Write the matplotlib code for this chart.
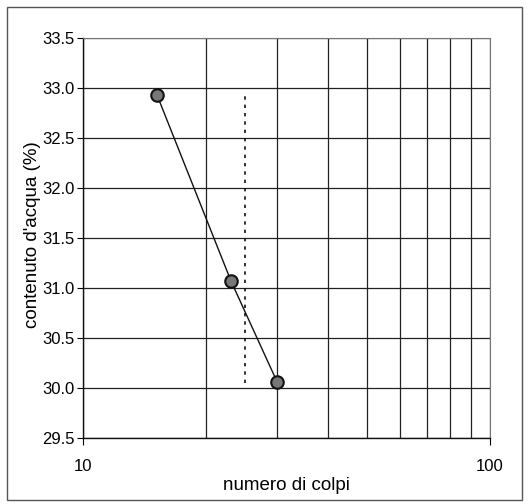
import matplotlib
matplotlib.use("Agg")
import matplotlib.pyplot as plt
from matplotlib.patches import Rectangle
from matplotlib.ticker import FixedLocator, NullFormatter

plt.rcParams['font.family'] = ['Liberation Sans', 'DejaVu Sans']

colpi = [15.2, 23.1, 30.0]
contenuto = [32.93, 31.07, 30.06]
dashed_x = [25, 25]
dashed_y = [30.05, 32.95]
y_ticks = [29.5, 30.0, 30.5, 31.0, 31.5, 32.0, 32.5, 33.0, 33.5]
x_ticks = [10, 100]
x_minor = [20, 30, 40, 50, 60, 70, 80, 90]

fig = plt.figure(figsize=(5.29, 5.04), dpi=100)
fig.patches.append(Rectangle((0.013, 0.008), 0.973, 0.978, transform=fig.transFigure,
                             fill=False, edgecolor='#555555', linewidth=1.0))
ax = fig.add_axes([0.157, 0.131, 0.769, 0.7936])
ax.set_xscale('log')
ax.set_xlim(10, 100)
ax.set_ylim(29.5, 33.5)

ax.set_xticks(x_ticks)
ax.set_xticklabels(['10', '100'])
ax.xaxis.set_minor_locator(FixedLocator(x_minor))
ax.xaxis.set_minor_formatter(NullFormatter())
ax.set_yticks(y_ticks)
ax.set_yticklabels([f"{v:.1f}" for v in y_ticks])

ax.grid(True, which='both', axis='x', color='#222222', linewidth=0.9)
ax.grid(True, which='major', axis='y', color='#222222', linewidth=0.9)
ax.set_axisbelow(True)

ax.tick_params(axis='x', which='minor', length=0)
ax.tick_params(axis='x', which='major', length=5, direction='out', pad=10, labelsize=12)
ax.tick_params(axis='y', length=4, direction='out', labelsize=12, pad=2)

for s in ['left', 'bottom']:
    ax.spines[s].set_color('#111111')
    ax.spines[s].set_linewidth(1.0)
for s in ['top', 'right']:
    ax.spines[s].set_color('#777777')
    ax.spines[s].set_linewidth(0.8)

ax.plot(dashed_x, dashed_y, linestyle=(0, (2, 3)), color='#111111', linewidth=1.2)
ax.plot(colpi, contenuto, color='#111111', linewidth=1.0, marker='o', markersize=9,
        markerfacecolor='#777777', markeredgecolor='#111111', markeredgewidth=1.5)

ax.set_xlabel('numero di colpi', fontsize=13.5, labelpad=2)
fig.text(0.062, 0.534, "contenuto d'acqua (%)", rotation=90, fontsize=13.5,
         ha='center', va='center')

fig.savefig('out.png', dpi=100)
